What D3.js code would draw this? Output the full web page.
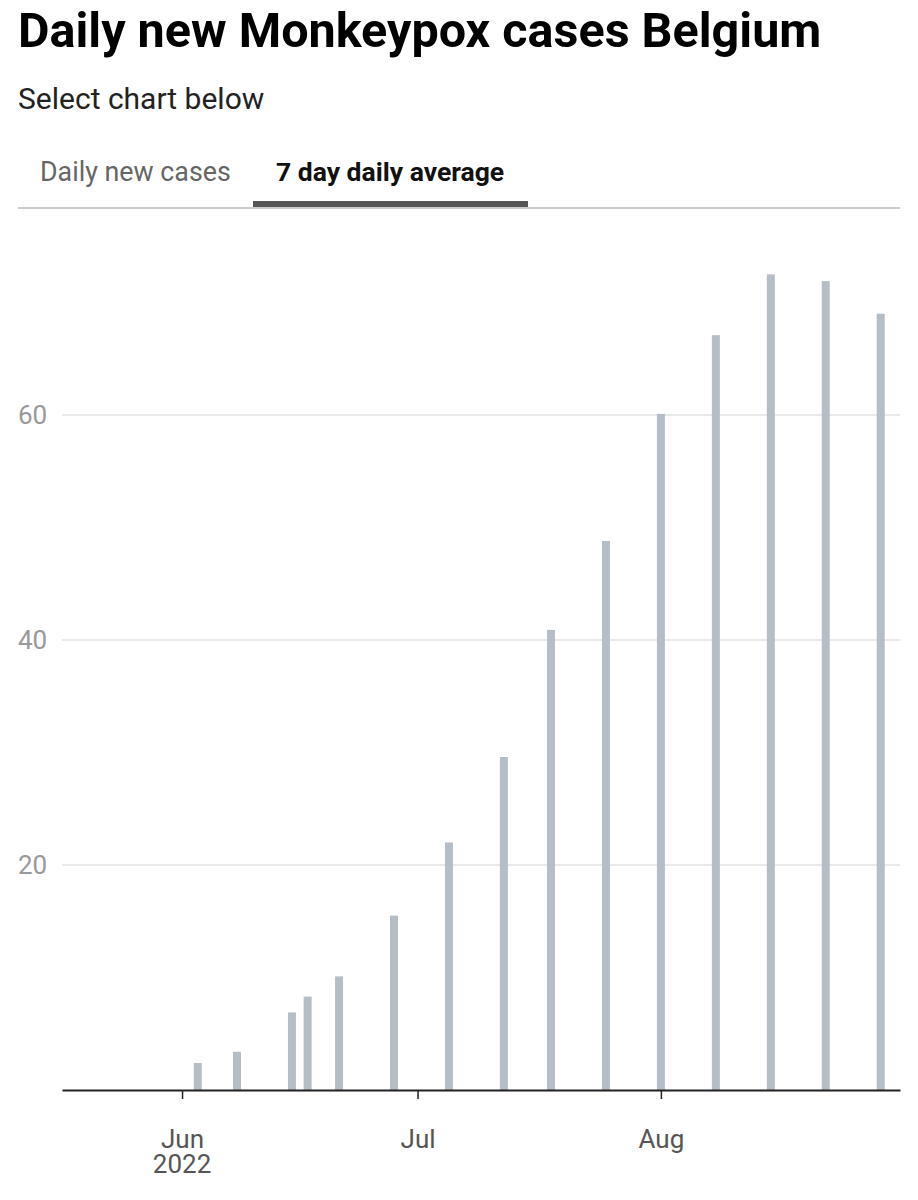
<!DOCTYPE html>
<html><head><meta charset="utf-8">
<script src="https://cdn.jsdelivr.net/npm/d3@7"></script>
<style>body{margin:0;background:#fff;font-family:Roboto,sans-serif;}</style>
</head><body><div id="chart"></div>
<script>
const dates = ["2022-06-03","2022-06-08","2022-06-15","2022-06-17","2022-06-21","2022-06-28","2022-07-05","2022-07-12","2022-07-18","2022-07-25","2022-08-01","2022-08-08","2022-08-15","2022-08-22","2022-08-29"];
const values = [2.4,3.4,6.9,8.3,10.1,15.5,22,29.6,40.9,48.8,60.1,67.1,72.5,71.9,69.0];
const yTicks = [20,40,60];
const xTicks = ["2022-06-01","2022-07-01","2022-08-01"];
const tabs = ["Daily new cases","7 day daily average"];

const parse = d3.timeParse("%Y-%m-%d");
const W = 918, H = 1200;
const svg = d3.select("#chart").append("svg").attr("width", W).attr("height", H);

svg.append("text").attr("x",18).attr("y",47).attr("font-size",48.5).attr("font-weight",700).attr("fill","#000").text("Daily new Monkeypox cases Belgium");
svg.append("text").attr("x",18).attr("y",109).attr("font-size",30).attr("fill","#222").text("Select chart below");
svg.append("text").attr("x",40).attr("y",181).attr("font-size",26.8).attr("fill","#666").text(tabs[0]);
svg.append("text").attr("x",276).attr("y",181).attr("font-size",26.5).attr("font-weight",700).attr("fill","#111").text(tabs[1]);
svg.append("rect").attr("x",18).attr("y",207).attr("width",882).attr("height",2).attr("fill","#ccc");
svg.append("rect").attr("x",253).attr("y",201).attr("width",275).attr("height",6).attr("fill","#555");

const x = d3.scaleTime().domain([new Date(2022,4,16,17), new Date(2022,7,31,11)]).range([62,900]);
const y = d3.scaleLinear().domain([0,80]).range([1090,190]);

svg.append("g").selectAll("line").data(yTicks).join("line")
  .attr("x1",62).attr("x2",900).attr("y1",d=>y(d)).attr("y2",d=>y(d)).attr("stroke","#e2e2e2").attr("stroke-width",1.5);
svg.append("g").selectAll("text").data(yTicks).join("text")
  .attr("x",18).attr("y",d=>y(d)+9).attr("font-size",26).attr("fill","#999").text(d=>d);

svg.append("g").selectAll("rect").data(values).join("rect")
  .attr("x",(d,i)=>x(parse(dates[i]))-4).attr("width",8)
  .attr("y",d=>y(d)).attr("height",d=>y(0)-y(d)).attr("fill","#b5bec6");

const xa = svg.append("g").attr("transform","translate(0,1090)")
  .call(d3.axisBottom(x).tickValues(xTicks.map(parse)).tickSize(9).tickSizeOuter(0).tickFormat(d3.timeFormat("%b")));
xa.select(".domain").attr("stroke","#222").attr("stroke-width",2);
xa.selectAll(".tick line").attr("stroke","#222").attr("stroke-width",1.5);
xa.selectAll(".tick text").attr("font-size",26).attr("font-family","Roboto").attr("fill","#555").attr("dy","1.75em");
svg.append("text").attr("x",x(parse(xTicks[0]))).attr("y",1173).attr("text-anchor","middle").attr("font-size",26).attr("fill","#555").text("2022");
</script></body></html>
